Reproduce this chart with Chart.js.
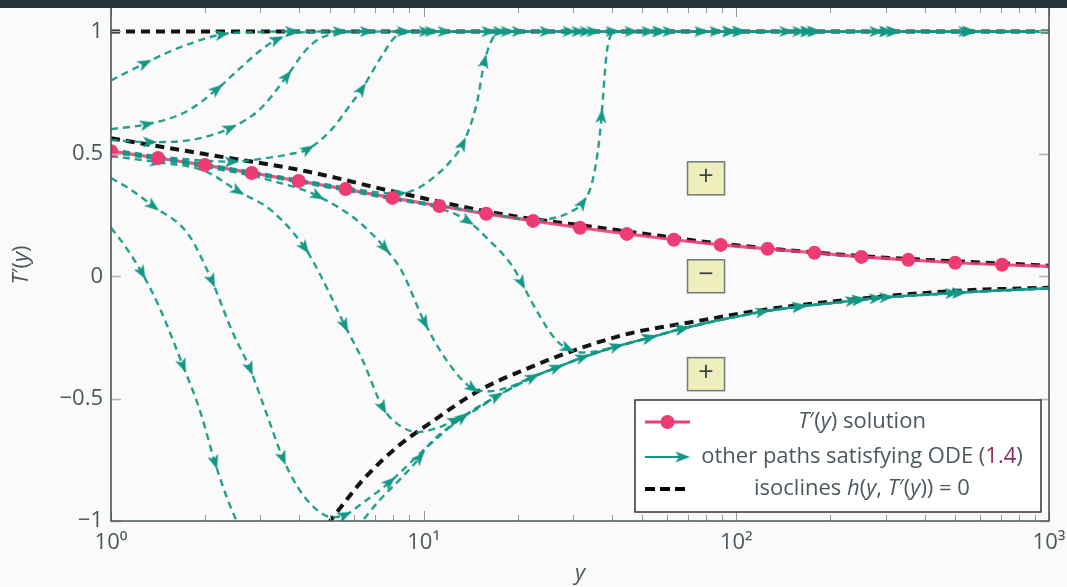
<!DOCTYPE html>
<html>
<head>
<meta charset="utf-8">
<script src="https://cdn.jsdelivr.net/npm/chart.js@4.4.1/dist/chart.umd.min.js"></script>
<style>
  html, body { margin: 0; padding: 0; background: #fafafa; }
  #wrap { position: relative; width: 1067px; height: 587px; }
  canvas { display: block; }
</style>
</head>
<body>
<div id="wrap"><canvas id="chart" width="1067" height="587"></canvas></div>
<script>
// ---- axis ticks ----
const xTickValues = [1, 10, 100, 1000];
const xTickLabels = ['10\u2070', '10\u00B9', '10\u00B2', '10\u00B3'];
const yTickValues = [-1, -0.5, 0, 0.5, 1];
const yTickLabels = ['\u22121', '\u22120.5', '0', '0.5', '1'];

// ---- T'(y) solution ----
const solutionX = [1, 1.413, 1.995, 2.818, 3.981, 5.623, 7.943, 11.22, 15.85, 22.39, 31.62, 44.67, 63.1, 89.13, 125.9, 177.8, 251.2, 354.8, 501.2, 707.9, 1000];
const solutionY = [0.511, 0.483, 0.454, 0.422, 0.389, 0.356, 0.320, 0.287, 0.255, 0.226, 0.198, 0.173, 0.149, 0.128, 0.112, 0.096, 0.079, 0.067, 0.055, 0.047, 0.040];

// ---- isoclines h(y, T'(y)) = 0 ----
const isoTopX = [1, 1000];
const isoTopY = [1, 1];
const isoMidX = [1, 2.0, 4.17, 8.38, 17.5, 36.5, 56.8, 88.3, 247, 1000];
const isoMidY = [0.564, 0.499, 0.430, 0.340, 0.255, 0.198, 0.165, 0.134, 0.083, 0.043];
const isoLowX = [4.95, 6.384, 8.199, 10.45, 15.10, 21.81, 31.5, 45.5, 70.8, 124.7, 247, 516, 1000];
const isoLowY = [-1.01, -0.833, -0.699, -0.601, -0.466, -0.373, -0.295, -0.234, -0.189, -0.136, -0.092, -0.059, -0.047];

// ---- shared branches the other paths settle onto ----
const upperBranch = 1;
const upperRunX = [3.79, 5.39, 6.57, 8.63, 10.15, 10.61, 11.67, 16.13, 17.5, 18.55, 20.12, 24.71, 29.27, 31.27, 33.17, 34.92, 40.18, 46.18, 52.34, 56.75, 61.08, 77.3, 86.34, 94.96, 102.2, 144.4, 158.9, 168.6, 177.5, 280.1, 301.4, 317.5, 539, 555.1, 1000];
const lowerRunX = [10.22, 13.32, 17.11, 22.29, 26.61, 32.21, 41.37, 52.7, 67.2, 121.1, 158.9, 234.8, 247.2, 280.1, 301.4, 489.8, 516, 1000];
const lowerRunY = [-0.699, -0.576, -0.491, -0.413, -0.373, -0.332, -0.287, -0.251, -0.214, -0.145, -0.124, -0.100, -0.096, -0.090, -0.086, -0.069, -0.067, -0.049];

// ---- other paths satisfying the ODE: initial stretches [y, T'] ----
const rise080 = [[1, 0.80], [1.284, 0.870], [1.661, 0.935], [2.263, 0.988], [2.99, 0.998]];
const rise060 = [[1, 0.601], [1.303, 0.621], [1.749, 0.674], [2.181, 0.764], [2.583, 0.849], [3.037, 0.927], [3.392, 0.967], [4.017, 0.996]];
const rise056 = [[1, 0.556], [1.332, 0.548], [1.788, 0.556], [2.40, 0.605], [2.992, 0.682], [3.65, 0.817], [4.168, 0.919], [4.653, 0.971], [5.6, 0.996]];
const rise052 = [[1, 0.519], [1.403, 0.491], [1.996, 0.472], [2.435, 0.468], [2.992, 0.479], [3.731, 0.499], [4.261, 0.519], [5.12, 0.605], [5.718, 0.686], [6.337, 0.764], [7.396, 0.906], [8.079, 0.976], [9.02, 0.996]];
const rise0514 = [[1, 0.514], [1.41, 0.487], [2.0, 0.458], [2.82, 0.427], [3.98, 0.395], [5.62, 0.363], [7.2, 0.342], [8.38, 0.338], [9.6, 0.36], [10.69, 0.401], [12.0, 0.46], [13.32, 0.540], [14.77, 0.703], [15.66, 0.878], [16.61, 0.971], [17.8, 0.997]];
const rise0512 = [[1, 0.5125], [1.413, 0.485], [1.995, 0.456], [2.818, 0.424], [3.981, 0.391], [5.623, 0.358], [7.943, 0.322], [11.22, 0.290], [15.85, 0.259], [22.39, 0.230], [25.27, 0.234], [29.9, 0.267], [32.21, 0.299], [34.67, 0.389], [36.5, 0.564], [37.05, 0.654], [38.44, 0.906], [39.29, 0.971], [40.6, 0.997]];
const fall051 = [[1, 0.5095], [1.413, 0.480], [1.995, 0.450], [2.818, 0.418], [3.981, 0.384], [5.623, 0.350], [7.943, 0.314], [11.22, 0.278], [13.82, 0.226], [15.9, 0.157], [19.25, 0.04], [20.56, -0.026], [22.96, -0.14], [26.61, -0.263], [28.85, -0.295], [32.21, -0.312]];
const fall0505 = [[1, 0.505], [1.413, 0.477], [1.995, 0.446], [2.818, 0.411], [3.269, 0.390], [3.958, 0.360], [4.585, 0.328], [6.154, 0.226], [7.506, 0.116], [8.503, 0.022], [10.07, -0.189], [11.85, -0.344], [14.34, -0.458], [16.25, -0.470], [18.83, -0.452], [22.29, -0.41]];
const fall049 = [[1, 0.491], [1.403, 0.466], [1.996, 0.430], [2.545, 0.348], [3.269, 0.267], [4.168, 0.116], [4.721, -0.006], [5.593, -0.201], [6.384, -0.344], [7.396, -0.536], [8.199, -0.601], [9.568, -0.637], [11.0, -0.621], [12.56, -0.589], [14.55, -0.548]];
const fall040 = [[1, 0.401], [1.15, 0.356], [1.362, 0.287], [1.762, 0.173], [2.102, -0.018], [2.435, -0.222], [2.781, -0.377], [3.174, -0.576], [3.544, -0.743], [3.958, -0.862], [4.485, -0.947], [5.083, -0.984], [5.593, -0.976], [6.384, -0.926], [7.787, -0.841]];
const fall020 = [[1, 0.198], [1.108, 0.124], [1.256, 0.014], [1.434, -0.132], [1.698, -0.365], [1.924, -0.548], [2.149, -0.760], [2.365, -0.915], [2.6, -1.04]];
const riseLow = [[6.1, -1.03], [7.235, -0.914], [8.4, -0.83], [9.71, -0.74]];

// ---- where each path carries a direction arrow (y values) ----
const arrows080 = [1.284, 2.263, 3.79, 6.57, 11.67, 20.12, 34.92, 61.08, 102.2, 177.5, 317.5, 555.1];
const arrows060 = [1.303, 2.181, 3.392, 5.39, 10.15, 18.55, 33.17, 56.75, 94.96, 168.6, 301.4, 539];
const arrows056 = [1.332, 2.40, 3.65, 8.63, 16.13, 29.27, 52.34, 86.34, 158.9, 280.1];
const arrows052 = [2.435, 4.261, 6.337, 10.61, 17.5, 31.27, 46.18, 77.3, 144.4];
const arrows0514 = [8.38, 13.32, 15.66, 24.71, 40.18, 94.96, 177.5, 317.5];
const arrows0512 = [32.21, 37.05, 56.75, 102.2, 168.6, 301.4, 555.1];
const arrows051 = [13.82, 20.56, 28.85, 67.2, 247.2, 516];
const arrows0505 = [4.585, 7.506, 10.07, 14.34, 52.7, 158.9, 280.1];
const arrows049 = [1.403, 2.545, 4.168, 5.593, 7.396, 12.56, 22.29, 41.37, 121.1, 247.2];
const arrows040 = [1.362, 2.102, 2.781, 3.544, 5.593, 7.787, 17.11, 32.21, 67.2, 234.8, 489.8];
const arrows020 = [1.256, 1.698, 2.149];
const arrowsLow = [9.71, 13.32, 26.61, 52.7, 158.9, 301.4, 516];

// ---- sign annotations of h ----
const signX = [80, 80, 80];
const signY = [0.4, 0, -0.4];
const signText = ['+', '\u2212', '+'];

// ---- styling ----
const FONT = '"Open Sans", "Noto Sans", "DejaVu Sans", sans-serif';
const TEXT = '#4a585e';
const TEAL = 'rgb(18,152,133)';
const TEAL_LINE = 'rgba(18,152,133,0.92)';
const PINK = '#ed3b73';
const PINK_LINE = 'rgba(237,59,115,0.88)';

const arrowImg = (() => {
  const c = document.createElement('canvas');
  c.width = 16; c.height = 14;
  const g = c.getContext('2d');
  g.fillStyle = TEAL;
  g.beginPath();
  g.moveTo(15.5, 7); g.lineTo(1, 1.6); g.lineTo(4.6, 7); g.lineTo(1, 12.4);
  g.closePath();
  g.fill();
  return c;
})();

function zip(xs, ys) { return xs.map((x, i) => ({ x, y: ys[i] })); }

function upperPath(head) {
  const last = head[head.length - 1][0];
  const pts = head.map(([x, y]) => ({ x, y }));
  upperRunX.forEach(x => { if (x > last) pts.push({ x, y: upperBranch }); });
  return pts;
}
function lowerPath(head) {
  const last = head[head.length - 1][0];
  const pts = head.map(([x, y]) => ({ x, y }));
  lowerRunX.forEach((x, i) => { if (x > last) pts.push({ x, y: lowerRunY[i] }); });
  return pts;
}
function plainPath(head) { return head.map(([x, y]) => ({ x, y })); }

function arrowAngle(ctx) {
  if (ctx.type !== 'data') return 0;
  const d = ctx.dataset.data, i = ctx.dataIndex;
  const a = d[Math.max(i - 1, 0)], b = d[Math.min(i + 1, d.length - 1)];
  const sx = ctx.chart.scales.x, sy = ctx.chart.scales.y;
  const dx = sx.getPixelForValue(b.x) - sx.getPixelForValue(a.x);
  const dy = sy.getPixelForValue(b.y) - sy.getPixelForValue(a.y);
  return Math.atan2(dy, dx) * 180 / Math.PI;
}

function pathSet(points, arrows) {
  return {
    data: points, arrowAt: arrows,
    borderColor: TEAL_LINE, borderWidth: 2.4, borderDash: [7, 5],
    cubicInterpolationMode: 'monotone', fill: false, order: 1,
    pointStyle: arrowImg,
    pointRadius: ctx => (ctx.type === 'data' && ctx.dataset.arrowAt.includes(ctx.raw.x)) ? 5 : 0,
    pointRotation: arrowAngle,
    pointHoverRadius: 0
  };
}

function isoSet(xs, ys) {
  return {
    data: zip(xs, ys), borderColor: 'rgba(0,0,0,0.92)', borderWidth: 4, borderDash: [9, 6],
    cubicInterpolationMode: 'monotone', pointRadius: 0, fill: false, order: 3
  };
}

const datasets = [
  isoSet(isoTopX, isoTopY),
  isoSet(isoMidX, isoMidY),
  isoSet(isoLowX, isoLowY),
  { data: zip(solutionX, solutionY), borderColor: PINK_LINE, borderWidth: 3.2, pointRadius: 0, order: 2, fill: false },
  pathSet(upperPath(rise080), arrows080),
  pathSet(upperPath(rise060), arrows060),
  pathSet(upperPath(rise056), arrows056),
  pathSet(upperPath(rise052), arrows052),
  pathSet(upperPath(rise0514), arrows0514),
  pathSet(upperPath(rise0512), arrows0512),
  pathSet(lowerPath(fall051), arrows051),
  pathSet(lowerPath(fall0505), arrows0505),
  pathSet(lowerPath(fall049), arrows049),
  pathSet(lowerPath(fall040), arrows040),
  pathSet(plainPath(fall020), arrows020),
  pathSet(lowerPath(riseLow), arrowsLow),
  { data: zip(solutionX, solutionY), showLine: false, order: 0,
    pointRadius: ctx => ctx.dataIndex < solutionX.length - 1 ? 7 : 0,
    pointBackgroundColor: PINK, pointBorderWidth: 0, pointHoverRadius: 0 }
];

function richText(g, runs, cx, cy, size, angle) {
  g.save();
  g.translate(cx, cy);
  if (angle) g.rotate(angle);
  g.textBaseline = 'middle';
  g.textAlign = 'left';
  const fonts = runs.map(r => (r[1] ? 'italic ' : '') + size + 'px ' + FONT);
  const widths = runs.map((r, i) => { g.font = fonts[i]; return g.measureText(r[0]).width; });
  let x = -widths.reduce((a, b) => a + b, 0) / 2;
  runs.forEach((r, i) => {
    g.font = fonts[i];
    g.fillStyle = r[2] || TEXT;
    g.fillText(r[0], x, 0);
    x += widths[i];
  });
  g.restore();
}

const framePlugin = {
  id: 'frame',
  afterDatasetsDraw(chart) {
    const g = chart.ctx, a = chart.chartArea, sx = chart.scales.x, sy = chart.scales.y;
    g.save();
    // y ticks, inward on both sides
    g.strokeStyle = '#b4b4b4'; g.lineWidth = 1.6;
    yTickValues.forEach(v => {
      const p = Math.round(sy.getPixelForValue(v)) + 0.5;
      g.beginPath(); g.moveTo(a.left, p); g.lineTo(a.left + 10, p); g.stroke();
      g.beginPath(); g.moveTo(a.right, p); g.lineTo(a.right - 10, p); g.stroke();
    });
    // x ticks: decades and minor 2..9
    g.strokeStyle = '#8f9595'; g.lineWidth = 1;
    for (let d = 1; d <= 1000; d *= 10) {
      for (let m = 1; m <= 9; m++) {
        const v = d * m;
        if (v > 1000) break;
        const p = Math.round(sx.getPixelForValue(v)) + 0.5;
        const len = m === 1 ? 10 : 6;
        g.beginPath(); g.moveTo(p, a.bottom); g.lineTo(p, a.bottom - len); g.stroke();
        g.beginPath(); g.moveTo(p, a.top); g.lineTo(p, a.top + len); g.stroke();
      }
    }
    // frame
    g.strokeStyle = '#49555a'; g.lineWidth = 1.6;
    g.beginPath();
    g.moveTo(a.left, a.top); g.lineTo(a.left, a.bottom); g.lineTo(a.right, a.bottom); g.lineTo(a.right, a.top);
    g.stroke();
    g.restore();
  },
  afterDraw(chart) {
    const g = chart.ctx, a = chart.chartArea, sx = chart.scales.x, sy = chart.scales.y;
    g.save();
    // sign boxes
    signX.forEach((v, i) => {
      const cx = sx.getPixelForValue(v), cy = sy.getPixelForValue(signY[i]);
      g.fillStyle = '#efeebd'; g.strokeStyle = '#6e7b7a'; g.lineWidth = 1.5;
      g.fillRect(cx - 18.5, cy - 16.5, 37, 33);
      g.strokeRect(cx - 18.5, cy - 16.5, 37, 33);
      richText(g, [[signText[i], false, '#3b4448']], cx, cy - 1, 27);
    });
    // legend
    const L = a.right - 8 - 406, T = a.bottom - 9 - 112;
    g.fillStyle = '#ffffff'; g.fillRect(L, T, 406, 112);
    g.strokeStyle = '#2f3538'; g.lineWidth = 1.5; g.strokeRect(L, T, 406, 112);
    const rows = [T + 22, T + 57, T + 89];
    const s0 = L + 10, s1 = L + 55;
    g.strokeStyle = PINK; g.lineWidth = 3;
    g.beginPath(); g.moveTo(s0, rows[0]); g.lineTo(s1, rows[0]); g.stroke();
    g.fillStyle = PINK; g.beginPath(); g.arc((s0 + s1) / 2, rows[0], 7, 0, Math.PI * 2); g.fill();
    g.strokeStyle = TEAL; g.lineWidth = 2;
    g.beginPath(); g.moveTo(s0, rows[1]); g.lineTo(s1 - 6, rows[1]); g.stroke();
    g.drawImage(arrowImg, s1 - 15.5, rows[1] - 7);
    g.strokeStyle = '#000'; g.lineWidth = 4; g.setLineDash([10, 5]);
    g.beginPath(); g.moveTo(s0, rows[2]); g.lineTo(s0 + 40, rows[2]); g.stroke();
    g.setLineDash([]);
    const tx = L + 227, fs = 22;
    richText(g, [['T', true], ['\u2032(', false], ['y', true], [') solution', false]], tx, rows[0], fs);
    richText(g, [['other paths satisfying ODE (', false], ['1.4', false, '#8e2d5c'], [')', false]], tx, rows[1], fs);
    richText(g, [['isoclines ', false], ['h', true], ['(', false], ['y', true], [', ', false], ['T', true], ['\u2032(', false], ['y', true], [')) = 0', false]], tx, rows[2], fs);
    // axis titles
    richText(g, [['y', true]], (a.left + a.right) / 2, 574, 22);
    richText(g, [['T', true], ['\u2032(', false], ['y', true], [')', false]], 22, 265, 22, -Math.PI / 2);
    // header band
    g.fillStyle = '#22343a';
    g.fillRect(0, 0, chart.width, 8);
    g.restore();
  }
};

new Chart(document.getElementById('chart'), {
  type: 'line',
  data: { datasets },
  plugins: [framePlugin],
  options: {
    responsive: false,
    animation: false,
    devicePixelRatio: 1,
    events: [],
    layout: { padding: { left: 0, right: 18, top: 5, bottom: 0 } },
    plugins: { legend: { display: false }, tooltip: { enabled: false } },
    scales: {
      x: {
        type: 'logarithmic', min: 1, max: 1000,
        afterBuildTicks: s => { s.ticks = xTickValues.map(v => ({ value: v })); },
        afterFit: s => { s.height = 66; s.paddingLeft = 0; s.paddingRight = 0; },
        grid: { display: false, drawTicks: false },
        border: { display: false },
        ticks: { callback: (v, i) => xTickLabels[i], font: { family: FONT, size: 22 }, color: TEXT, padding: 9, maxRotation: 0, autoSkip: false }
      },
      y: {
        type: 'linear', min: -1, max: 1.1,
        afterBuildTicks: s => { s.ticks = yTickValues.map(v => ({ value: v })); },
        afterFit: s => { s.width = 111; s.paddingTop = 0; s.paddingBottom = 0; },
        grid: { display: false, drawTicks: false },
        border: { display: false },
        ticks: { callback: (v, i) => yTickLabels[i], font: { family: FONT, size: 22 }, color: TEXT, padding: 8, autoSkip: false }
      }
    }
  }
});
</script>
</body>
</html>
